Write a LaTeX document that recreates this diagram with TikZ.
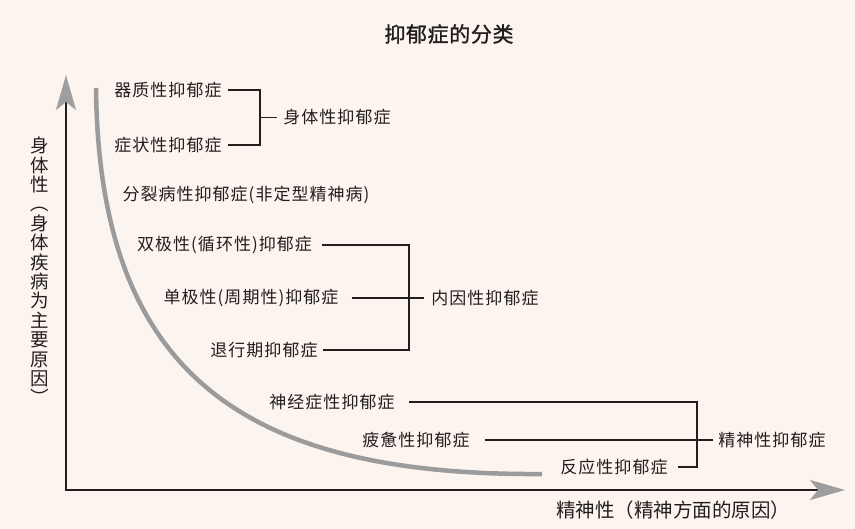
\documentclass[tikz,border=0pt]{standalone}
\usepackage{fontspec}
\setmainfont{Noto Sans CJK SC}
\usetikzlibrary{arrows.meta}
\definecolor{bg}{RGB}{252,244,238}
\definecolor{curvegray}{RGB}{155,155,155}
\definecolor{arrowgray}{RGB}{158,158,158}
\definecolor{ink}{RGB}{35,30,30}
\tikzset{
  lbl/.style={font=\fontsize{17}{20}\selectfont\addfontfeature{LetterSpace=6}, text=ink, inner ysep=0pt},
  brk/.style={draw=ink, line width=1.8pt},
  axisline/.style={draw=ink, line width=2.6pt,
    -{Stealth[length=35pt,width=20pt,inset=8pt,color=arrowgray,fill=arrowgray]}},
}
\begin{document}
\begin{tikzpicture}[x=1pt,y=-1pt]
\fill[bg] (0,0) rectangle (855,529);
\useasboundingbox (0,0) rectangle (855,529);

% title
\node[font=\fontsize{21}{24}\selectfont\addfontfeature{FakeBold=1.2,LetterSpace=3}, text=ink] (title) at (449,34) {抑郁症的分类};

% axes
\coordinate (O) at (66,490);
\coordinate (ytip) at (66,75);
\coordinate (xtip) at (845,490);
\draw[axisline] (O) -- (ytip);
\draw[axisline] ([xshift=-1.3pt]O) -- (xtip);

% curve
\draw[curvegray, line width=4.5pt] (96,88) .. controls (99,375) and (245,476) .. (542,474);

% axis labels
\node[font=\fontsize{19.5}{22}\selectfont, text=ink] (xlab) at (673,510) {精神性（精神方面的原因）};
\node[font=\fontsize{18.5}{19.4}\selectfont, text=ink, align=center, inner sep=0pt] (ylab) at (40,271)
  {身\\体\\性\\︵\\身\\体\\疾\\病\\为\\主\\要\\原\\因\\︶};

% group A
\node[lbl, inner xsep=6pt] (a1) at (168,90) {器质性抑郁症};
\node[lbl, inner xsep=6pt] (a2) at (168,145) {症状性抑郁症};
\coordinate (kA) at (260,117.5);
\node[lbl, inner xsep=6pt] (A) at (337,117.5) {身体性抑郁症};
\draw[brk] (a1.east) -| (kA);
\draw[brk] (a2.east) -| (kA);
\draw[brk] ([xshift=-0.9pt]kA) -- (A.west);

% schizo
\node[lbl] (s) at (246,195) {分裂病性抑郁症(非定型精神病)};

% group B
\node[lbl, inner xsep=10pt] (b1) at (224.5,245) {双极性(循环性)抑郁症};
\node[lbl, inner xsep=13pt] (b2) at (251,298) {单极性(周期性)抑郁症};
\node[lbl, inner xsep=5pt] (b3) at (264,350) {退行期抑郁症};
\coordinate (kB) at (409,298);
\node[lbl, inner xsep=7pt] (B) at (485,298) {内因性抑郁症};
\draw[brk] (b1.east) -| (kB);
\draw[brk] (b3.east) -| (kB);
\draw[brk] (b2.east) -- (B.west);

% group C
\node[lbl, inner xsep=14pt] (c1) at (332,402) {神经症性抑郁症};
\node[lbl, inner xsep=15pt] (c2) at (416,440) {疲惫性抑郁症};
\node[lbl, inner xsep=10pt] (c3) at (614,467) {反应性抑郁症};
\coordinate (kC) at (697,440);
\node[lbl, inner xsep=5pt] (C) at (772,440) {精神性抑郁症};
\draw[brk] (c1.east) -| (kC);
\draw[brk] (c3.east) -| (kC);
\draw[brk] (c2.east) -- (C.west);
\end{tikzpicture}
\end{document}
